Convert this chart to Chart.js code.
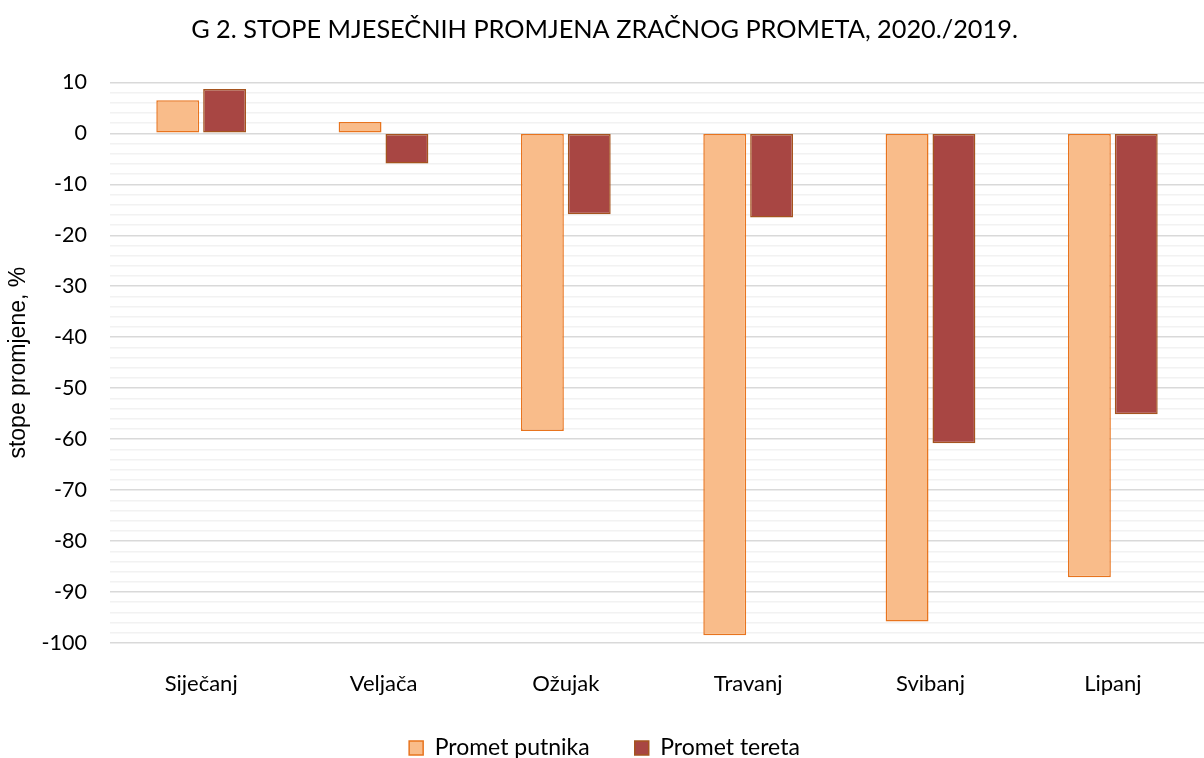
<!DOCTYPE html>
<html>
<head>
<meta charset="utf-8">
<script src="https://cdn.jsdelivr.net/npm/chart.js@4.4.1/dist/chart.umd.min.js"></script>
<style>
  html, body { margin: 0; padding: 0; background: #fff; }
  #wrap { width: 1204px; height: 758px; overflow: hidden; }
</style>
</head>
<body>
<div id="wrap"><canvas id="zracniChart" width="1204" height="758"></canvas></div>
<script>
const months = ['Siječanj', 'Veljača', 'Ožujak', 'Travanj', 'Svibanj', 'Lipanj'];
const prometPutnika = [6.5, 2.2, -58.4, -98.5, -95.8, -87.1];
const prometTereta = [8.7, -5.9, -15.9, -16.5, -60.8, -55.1];
const seriesNames = ['Promet putnika', 'Promet tereta'];

// legenda: razmak 45 px medu stavkama, ali niska kutija uz donji rub
const legendFit = {
  id: 'legendFit',
  afterInit(chart) {
    const lg = chart.legend;
    if (!lg) return;
    const fit = lg.fit.bind(lg);
    lg.fit = function () {
      fit();
      this.height = 57;
    };
    const draw = lg.draw.bind(lg);
    lg.draw = function () {
      const t = this.top;
      this.top = t - 9.5;
      draw();
      this.top = t;
    };
  }
};

const ctx = document.getElementById('zracniChart').getContext('2d');

new Chart(ctx, {
  type: 'bar',
  data: {
    labels: months,
    datasets: [
      {
        label: seriesNames[0],
        data: prometPutnika,
        backgroundColor: '#F9BC8A',
        borderColor: '#E8741E',
        borderWidth: 1.5,
        borderSkipped: false,
        categoryPercentage: 0.514,
        barPercentage: 0.915
      },
      {
        label: seriesNames[1],
        data: prometTereta,
        backgroundColor: '#A84643',
        borderColor: '#A5541F',
        borderWidth: 1.5,
        borderSkipped: false,
        categoryPercentage: 0.514,
        barPercentage: 0.915
      }
    ]
  },
  options: {
    responsive: false,
    animation: false,
    layout: { padding: { top: 10, left: 5, right: 0, bottom: 0 } },
    scales: {
      x: {
        grid: { display: false, drawTicks: false },
        border: { display: false },
        ticks: {
          color: '#000',
          padding: 28,
          font: { family: 'Lato', size: 22 }
        },
        afterFit: (scale) => { scale.height = 58; }
      },
      y: {
        min: -100,
        max: 10,
        border: { display: false },
        grid: {
          drawTicks: false,
          color: (c) => (c.tick && c.tick.value % 10 === 0) ? '#D9D9D9' : '#F2F2F2',
          lineWidth: 1.5
        },
        ticks: {
          stepSize: 2,
          autoSkip: false,
          color: '#000',
          padding: 23,
          font: { family: 'Lato', size: 21.5 },
          callback: (v) => (v % 10 === 0 ? v : '')
        },
        title: {
          display: true,
          text: 'stope promjene, %',
          color: '#000',
          font: { family: 'Liberation Sans', size: 23 },
          padding: { top: 0, bottom: 0 }
        },
        afterFit: (scale) => { scale.width = 105; }
      }
    },
    plugins: {
      title: {
        display: true,
        text: 'G 2. STOPE MJESEČNIH PROMJENA ZRAČNOG PROMETA, 2020./2019.',
        color: '#000',
        font: { family: 'Lato', size: 25.3, weight: 'normal' },
        padding: { top: 5, bottom: 37 }
      },
      legend: {
        position: 'bottom',
        labels: {
          color: '#000',
          boxWidth: 14,
          boxHeight: 14,
          padding: 45,
          font: { family: 'Lato', size: 23 }
        }
      },
      tooltip: { enabled: false }
    }
  },
  plugins: [legendFit]
});
</script>
</body>
</html>
